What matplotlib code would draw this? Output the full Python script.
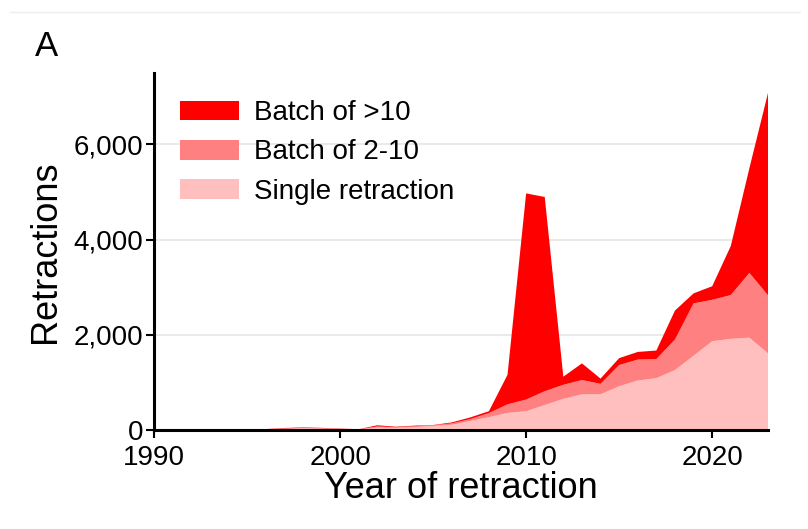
import matplotlib
matplotlib.use("Agg")
import matplotlib.pyplot as plt
from matplotlib.ticker import FuncFormatter

plt.rcParams['font.family'] = ['Liberation Sans', 'DejaVu Sans']

# retractions per year
years = list(range(1990, 2024))
single = [8, 8, 8, 8, 8, 10, 12, 25, 35, 30, 20, 12, 55, 45, 60, 85, 110, 190, 270, 360,
          395, 525, 655, 750, 750, 920, 1040, 1090, 1260, 1560, 1865, 1915, 1940, 1610]
batch_2_10 = [3, 3, 3, 3, 3, 4, 4, 8, 10, 8, 6, 3, 20, 15, 20, 15, 30, 40, 85, 180,
              245, 290, 295, 300, 220, 445, 440, 400, 640, 1100, 870, 920, 1360, 1220]
batch_gt10 = [4, 4, 4, 4, 4, 4, 4, 10, 10, 8, 6, 2, 25, 10, 12, 5, 20, 35, 40, 620,
              4330, 4080, 170, 350, 110, 145, 160, 180, 610, 210, 285, 1030, 2200, 4250]

labels = ['Single retraction', 'Batch of 2-10', 'Batch of >10']
colors = ['#ffbfbf', '#ff8080', '#ff0000']

fig = plt.figure(figsize=(8.08, 5.29), dpi=100)
ax = fig.add_axes([0.1906, 0.1871, 0.7599, 0.675])

ax.stackplot(years, single, batch_2_10, batch_gt10, labels=labels,
             colors=colors, linewidth=0, zorder=2)

ax.set_xlim(1990, 2023)
ax.set_ylim(0, 7500)
ax.set_xticks([1990, 2000, 2010, 2020])
ax.set_yticks([0, 2000, 4000, 6000])
ax.yaxis.set_major_formatter(FuncFormatter(lambda v, p: f'{int(v):,}'))
ax.grid(axis='y', color='#e6e6e6', linewidth=1.2, zorder=0)
ax.set_axisbelow(True)

for s in ['top', 'right']:
    ax.spines[s].set_visible(False)
for s in ['left', 'bottom']:
    ax.spines[s].set_linewidth(2.2)
    ax.spines[s].set_zorder(3)
ax.tick_params(axis='both', direction='out', length=6, width=1.5, labelsize=20)
ax.tick_params(axis='x', pad=5)
ax.tick_params(axis='y', pad=2)

ax.set_xlabel('Year of retraction', fontsize=26, labelpad=0)
ax.set_ylabel('Retractions', fontsize=26, labelpad=7)

# legend in the reverse order (top layer first)
h, l = ax.get_legend_handles_labels()
ax.legend(h[::-1], l[::-1], loc='upper left', bbox_to_anchor=(0.025, 0.955),
          frameon=False, fontsize=20, handlelength=2.1, handleheight=0.72,
          handletextpad=0.55, labelspacing=0.48, borderaxespad=0)

fig.text(0.043, 0.912, 'A', fontsize=25, va='center', ha='left')
fig.add_artist(plt.Line2D([0.012, 0.99], [0.977, 0.977], color='#eeeeee', linewidth=1))

fig.savefig('out.png', dpi=100)
